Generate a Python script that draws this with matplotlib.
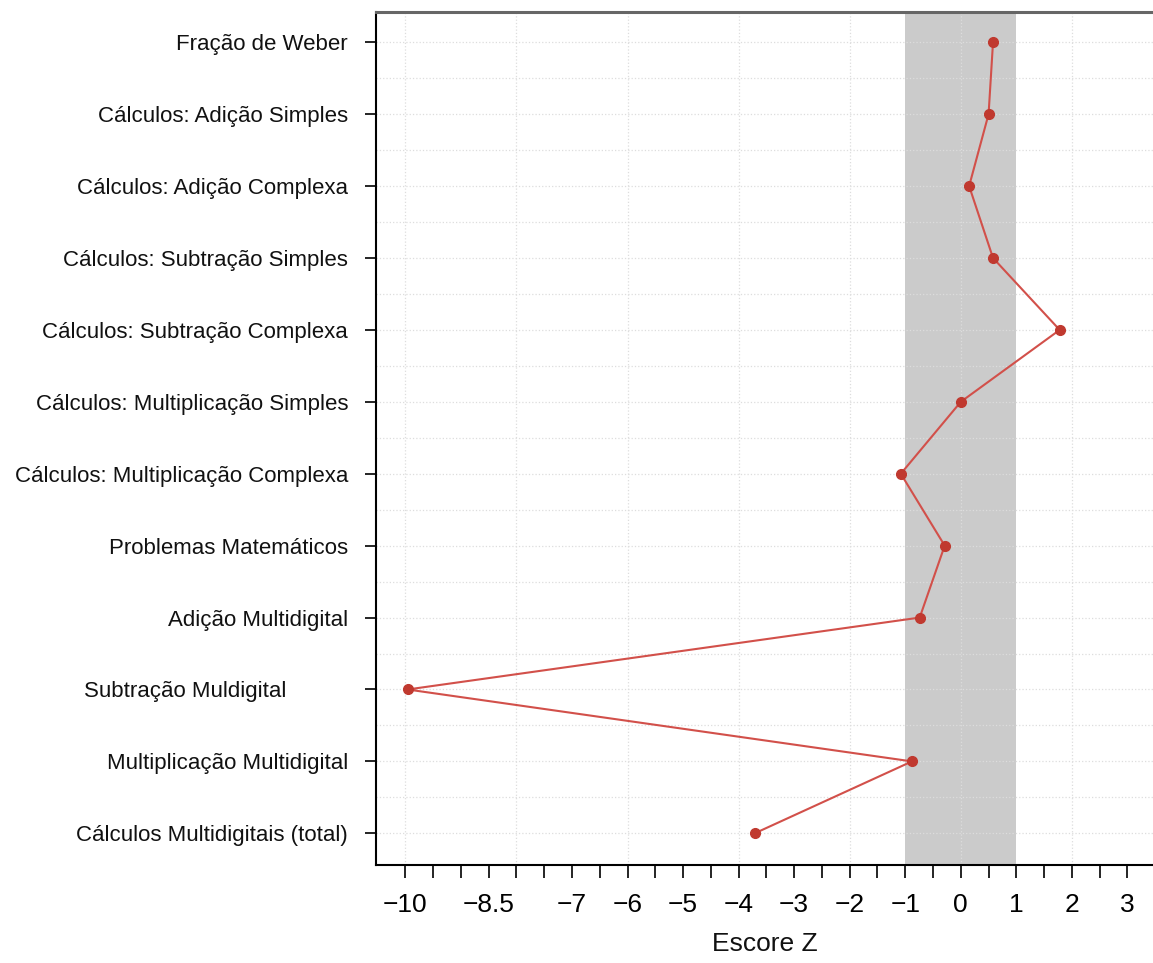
import matplotlib
matplotlib.use('Agg')
from matplotlib import pyplot as plt
from matplotlib import ticker
import numpy as np

plt.rcParams['font.family'] = ['Liberation Sans', 'DejaVu Sans']

tarefas = [
    'Fração de Weber',
    'Cálculos: Adição Simples',
    'Cálculos: Adição Complexa',
    'Cálculos: Subtração Simples',
    'Cálculos: Subtração Complexa',
    'Cálculos: Multiplicação Simples',
    'Cálculos: Multiplicação Complexa',
    'Problemas Matemáticos',
    'Adição Multidigital',
    'Subtração Muldigital          ',
    'Multiplicação Multidigital',
    'Cálculos Multidigitais (total)',
]
escore_z = [0.58, 0.50, 0.15, 0.58, 1.78, 0.0, -1.08, -0.29, -0.74, -9.96, -0.88, -3.71]

x_ticks = [-10, -8.5, -7, -6, -5, -4, -3, -2, -1, 0, 1, 2, 3]
x_ticklabels = ['−10', '−8.5', '−7', '−6', '−5', '−4', '−3', '−2', '−1', '0', '1', '2', '3']

fig = plt.figure(figsize=(11.53, 9.63), dpi=100)
ax = fig.add_axes([0.326, 0.1018, 0.674, 0.8857])

y = np.arange(len(tarefas))

# faixa da normalidade
ax.axvspan(-1, 1, color='#cbcbcb', zorder=0, lw=0)

ax.plot(escore_z, y, '-', color='#d2504a', lw=1.5, zorder=3)
ax.plot(escore_z, y, 'o', color='#c0392f', ms=7, zorder=4)

ax.set_xlim(-10.53, 3.46)
ax.set_ylim(len(tarefas) - 0.56, -0.42)

ax.set_yticks(y)
ax.set_yticklabels(tarefas, fontsize=16, color='#111111')

ax.xaxis.remove_overlapping_locs = False
ax.xaxis.set_major_locator(ticker.FixedLocator(np.arange(-10, 3.01, 0.5)))
ax.xaxis.set_major_formatter(ticker.NullFormatter())
ax.xaxis.set_minor_locator(ticker.FixedLocator(x_ticks))
ax.xaxis.set_minor_formatter(ticker.FixedFormatter(x_ticklabels))
ax.tick_params(axis='x', which='major', length=9, width=1.2, direction='out')
ax.tick_params(axis='x', which='minor', length=0, labelsize=19, pad=20)
ax.tick_params(axis='y', which='major', length=8, width=1.2, pad=12)

for yy in np.arange(-0.5, len(tarefas), 0.5):
    ax.axhline(yy, color='#dddddd', lw=0.9, ls=':', zorder=1)
for xx in np.arange(-10, 3.01, 2):
    ax.axvline(xx, color='#dddddd', lw=0.9, ls=':', zorder=1)

ax.spines['top'].set_color('#666666')
ax.spines['top'].set_linewidth(2.2)
ax.spines['left'].set_linewidth(1.5)
ax.spines['bottom'].set_linewidth(1.5)
ax.spines['right'].set_visible(False)

ax.set_xlabel('Escore Z', fontsize=19, labelpad=11, color='#111111')

fig.savefig('out.png', dpi=100)
